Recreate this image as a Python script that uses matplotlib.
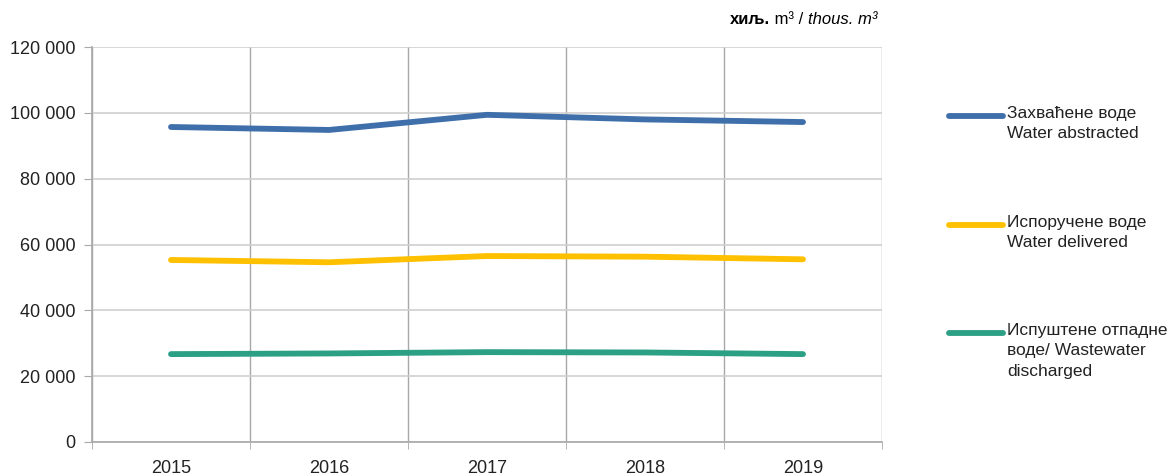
import matplotlib
matplotlib.use('Agg')
import matplotlib.pyplot as plt
from matplotlib.lines import Line2D
from matplotlib.ticker import FuncFormatter, MultipleLocator
import numpy as np

plt.rcParams['font.family'] = ['Liberation Sans', 'DejaVu Sans']

years = ['2015', '2016', '2017', '2018', '2019']
abstracted = [95700, 94800, 99400, 98000, 97200]
delivered = [55300, 54600, 56500, 56300, 55500]
discharged = [26700, 26900, 27300, 27200, 26700]

labels = ['Захваћене воде\nWater abstracted',
          'Испоручене воде\nWater delivered',
          'Испуштене отпадне\nводе/ Wastewater\ndischarged']
colors = ['#3F6FAA', '#FFC000', '#2BA084']

fig = plt.figure(figsize=(11.72, 4.76), dpi=100)
ax = fig.add_axes([92 / 1172, 34 / 476, 790 / 1172, 395 / 476])

x = np.arange(len(years))
for vals, c in zip([abstracted, delivered, discharged], colors):
    ax.plot(x, vals, color=c, lw=4.2, solid_capstyle='round', zorder=3)

ax.set_xlim(-0.5, len(years) - 0.5)
ax.set_ylim(0, 120000)
ax.yaxis.set_major_locator(MultipleLocator(20000))
ax.yaxis.set_major_formatter(FuncFormatter(lambda v, p: f'{int(v):,}'.replace(',', ' ')))
ax.set_xticks(x)
ax.set_xticklabels(years)
ax.set_xticks(np.arange(-0.5, len(years)), minor=True)

ax.grid(axis='y', color='#d0d0d0', lw=1.2, zorder=0)
ax.grid(axis='x', which='minor', color='#a8a8a8', lw=1.0, zorder=0)
ax.grid(axis='x', which='major', visible=False)

for s in ['top', 'right']:
    ax.spines[s].set_visible(False)
ax.spines['left'].set_color('#a8a8a8')
ax.spines['bottom'].set_color('#a8a8a8')
ax.spines['left'].set_linewidth(1.2)
ax.spines['bottom'].set_linewidth(1.2)

ax.tick_params(axis='y', length=6, color='#a8a8a8', labelsize=13, pad=6, labelcolor='#222222')
ax.tick_params(axis='x', which='major', length=0, labelsize=13, pad=13, labelcolor='#222222')
ax.tick_params(axis='x', which='minor', length=5, color='#a8a8a8')

# unit label: bold "хиљ.", plain "m³ /", italic "thous. m³"
t3 = fig.text(877 / 1172, 1 - 20 / 476, 'thous. m³', ha='right', va='center',
              fontsize=12, style='italic')
t2 = ax.annotate(' m³ / ', xy=(0, 0.5), xycoords=t3, ha='right', va='center',
                 fontsize=12, annotation_clip=False)
ax.annotate('хиљ.', xy=(0, 0.5), xycoords=t2, ha='right', va='center',
            fontsize=12, fontweight='bold', annotation_clip=False)

# legend, Excel style: handle aligned with first text line
W, H = 1172, 476
leg_y = [116, 225, 333]
for lab, c, yy in zip(labels, colors, leg_y):
    fig.add_artist(Line2D([949 / W, 1003 / W], [1 - yy / H, 1 - yy / H], color=c,
                          lw=4.2, solid_capstyle='round'))
    fig.text(1007 / W, 1 - (yy - 10) / H, lab, ha='left', va='top', fontsize=12.5,
             linespacing=1.45, color='#222222')

fig.savefig('out.png', dpi=100)
